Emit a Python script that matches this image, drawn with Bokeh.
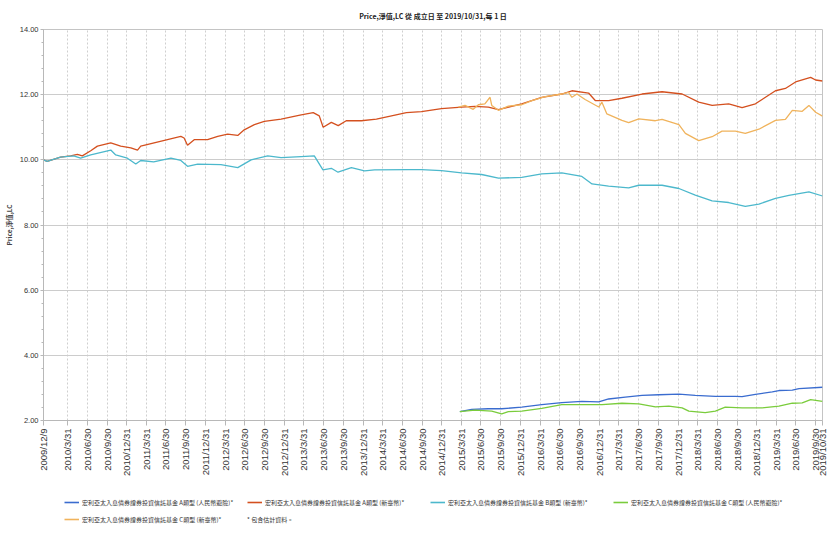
import pandas as pd
from math import pi
from bokeh.plotting import figure
from bokeh.layouts import column
from bokeh.models import (Range1d, FixedTicker, SingleIntervalTicker, NumeralTickFormatter,
                          Legend, LegendItem, ColumnDataSource)
from bokeh.embed import file_html
from bokeh.resources import INLINE

title_text = "Price,淨值,LC 從 成立日 至 2019/10/31,每 1 日"
y_label = "Price,淨值,LC"
note_text = "* 包含估計資料。"

series_names = [
    "宏利亞太入息債券證券投資信託基金 A類型 (人民幣避險)*",
    "宏利亞太入息債券證券投資信託基金 A類型 (新臺幣)*",
    "宏利亞太入息債券證券投資信託基金 B類型 (新臺幣)*",
    "宏利亞太入息債券證券投資信託基金 C類型 (人民幣避險)*",
    "宏利亞太入息債券證券投資信託基金 C類型 (新臺幣)*",
]
series_colors = ["#3a6ccf", "#d4501f", "#4cb8cc", "#7acc3c", "#f0b35c"]

x_start = "2009/12/9"
x_end = "2019/10/31"
x_tick_labels = [
    "2009/12/9",
    "2010/3/31", "2010/6/30", "2010/9/30", "2010/12/31",
    "2011/3/31", "2011/6/30", "2011/9/30", "2011/12/31",
    "2012/3/31", "2012/6/30", "2012/9/30", "2012/12/31",
    "2013/3/31", "2013/6/30", "2013/9/30", "2013/12/31",
    "2014/3/31", "2014/6/30", "2014/9/30", "2014/12/31",
    "2015/3/31", "2015/6/30", "2015/9/30", "2015/12/31",
    "2016/3/31", "2016/6/30", "2016/9/30", "2016/12/31",
    "2017/3/31", "2017/6/30", "2017/9/30", "2017/12/31",
    "2018/3/31", "2018/6/30", "2018/9/30", "2018/12/31",
    "2019/3/31", "2019/6/30", "2019/9/30", "2019/10/31",
]

# A類型 (人民幣避險)
a_cny_dates = ["2015-03-24", "2015-05-18", "2015-08-03", "2015-10-04", "2016-01-05", "2016-04-07",
               "2016-07-09", "2016-10-10", "2016-12-27", "2017-02-11", "2017-04-29", "2017-07-16",
               "2017-10-02", "2018-01-03", "2018-03-20", "2018-06-21", "2018-09-22", "2018-10-23",
               "2018-12-24", "2019-03-12", "2019-04-12", "2019-06-13", "2019-07-14", "2019-10-31"]
a_cny_values = [2.27, 2.34, 2.36, 2.36, 2.41, 2.49,
                2.55, 2.59, 2.57, 2.66, 2.72, 2.77,
                2.79, 2.81, 2.77, 2.74, 2.74, 2.73,
                2.80, 2.88, 2.92, 2.93, 2.98, 3.02]

# A類型 (新臺幣)
a_twd_dates = ["2009-12-09", "2009-12-26", "2010-02-26", "2010-04-14", "2010-05-15", "2010-06-07",
               "2010-07-16", "2010-08-16", "2010-10-17", "2010-12-02", "2011-01-18", "2011-02-18",
               "2011-03-05", "2011-05-06", "2011-07-07", "2011-09-07", "2011-09-22", "2011-10-08",
               "2011-11-08", "2012-01-09", "2012-02-25", "2012-04-11", "2012-05-28", "2012-06-27",
               "2012-08-13", "2012-09-28", "2012-12-15", "2013-03-18", "2013-05-13", "2013-06-10",
               "2013-06-28", "2013-08-05", "2013-09-06", "2013-10-13", "2013-12-22", "2014-03-02",
               "2014-05-11", "2014-07-19", "2014-09-27", "2014-12-29", "2015-04-01", "2015-06-02",
               "2015-08-03", "2015-09-19", "2016-01-05", "2016-04-07", "2016-07-09", "2016-08-25",
               "2016-11-10", "2016-12-11", "2017-02-11", "2017-04-14", "2017-07-16", "2017-10-17",
               "2018-01-18", "2018-04-05", "2018-06-06", "2018-08-22", "2018-10-23", "2018-12-24",
               "2019-03-27", "2019-05-12", "2019-06-28", "2019-09-06", "2019-09-29", "2019-10-31"]
a_twd_values = [10.00, 9.95, 10.08, 10.12, 10.17, 10.12,
                10.28, 10.42, 10.52, 10.42, 10.37, 10.30,
                10.42, 10.52, 10.62, 10.72, 10.67, 10.45,
                10.62, 10.62, 10.72, 10.79, 10.75, 10.92,
                11.08, 11.18, 11.25, 11.38, 11.45, 11.35,
                11.00, 11.15, 11.05, 11.20, 11.20, 11.25,
                11.35, 11.45, 11.48, 11.57, 11.62, 11.64,
                11.62, 11.54, 11.72, 11.92, 12.02, 12.12,
                12.05, 11.82, 11.82, 11.89, 12.02, 12.09,
                12.02, 11.77, 11.67, 11.72, 11.60, 11.72,
                12.12, 12.19, 12.39, 12.53, 12.45, 12.42]

# B類型 (新臺幣)
b_twd_dates = ["2009-12-09", "2009-12-26", "2010-02-26", "2010-04-28", "2010-05-30", "2010-07-16",
               "2010-10-17", "2010-11-09", "2011-01-02", "2011-02-10", "2011-03-05", "2011-05-04",
               "2011-07-23", "2011-09-07", "2011-10-08", "2011-11-24", "2012-03-11", "2012-05-28",
               "2012-07-29", "2012-10-14", "2012-12-15", "2013-03-18", "2013-05-18", "2013-06-27",
               "2013-08-05", "2013-09-05", "2013-11-06", "2014-01-06", "2014-02-21", "2014-07-27",
               "2014-09-27", "2014-12-29", "2015-04-01", "2015-07-03", "2015-09-19", "2016-01-05",
               "2016-04-07", "2016-07-09", "2016-10-10", "2016-11-26", "2017-02-11", "2017-05-15",
               "2017-07-01", "2017-10-17", "2018-01-03", "2018-03-20", "2018-06-06", "2018-08-22",
               "2018-11-07", "2019-01-09", "2019-03-27", "2019-05-28", "2019-08-29", "2019-10-31"]
b_twd_values = [10.00, 9.95, 10.08, 10.12, 10.05, 10.15,
                10.30, 10.15, 10.05, 9.87, 9.98, 9.94,
                10.05, 9.98, 9.80, 9.87, 9.85, 9.76,
                10.00, 10.12, 10.07, 10.10, 10.12, 9.69,
                9.74, 9.62, 9.76, 9.66, 9.69, 9.70,
                9.70, 9.67, 9.60, 9.55, 9.44, 9.46,
                9.57, 9.60, 9.49, 9.26, 9.19, 9.14,
                9.22, 9.22, 9.12, 8.92, 8.74, 8.69,
                8.57, 8.64, 8.82, 8.91, 9.02, 8.89]

# C類型 (人民幣避險)
c_cny_dates = ["2015-03-24", "2015-06-02", "2015-08-19", "2015-10-04", "2015-11-04", "2016-01-05",
               "2016-04-07", "2016-07-09", "2016-10-10", "2017-01-11", "2017-04-14", "2017-07-01",
               "2017-09-16", "2017-11-17", "2018-01-18", "2018-02-18", "2018-05-05", "2018-06-21",
               "2018-08-06", "2018-10-23", "2019-01-24", "2019-04-12", "2019-06-13", "2019-07-29",
               "2019-09-06", "2019-10-31"]
c_cny_values = [2.27, 2.32, 2.29, 2.20, 2.27, 2.29,
                2.37, 2.49, 2.49, 2.49, 2.53, 2.51,
                2.42, 2.44, 2.39, 2.29, 2.24, 2.29,
                2.41, 2.39, 2.39, 2.44, 2.53, 2.54,
                2.64, 2.59]

# C類型 (新臺幣)
c_twd_dates = ["2015-03-17", "2015-04-17", "2015-05-25", "2015-06-18", "2015-07-18", "2015-08-11",
               "2015-08-19", "2015-09-19", "2015-11-04", "2016-01-05", "2016-02-21", "2016-04-23",
               "2016-07-09", "2016-08-09", "2016-08-25", "2016-09-17", "2016-10-25", "2016-12-27",
               "2017-01-11", "2017-02-03", "2017-04-14", "2017-05-15", "2017-07-01", "2017-09-16",
               "2017-10-17", "2018-01-03", "2018-02-02", "2018-04-05", "2018-06-06", "2018-07-22",
               "2018-09-22", "2018-11-07", "2019-01-09", "2019-03-27", "2019-05-12", "2019-06-13",
               "2019-07-29", "2019-08-29", "2019-09-29", "2019-10-31"]
c_twd_values = [11.62, 11.67, 11.55, 11.69, 11.72, 11.92,
                11.67, 11.52, 11.65, 11.69, 11.82, 11.94,
                12.02, 12.07, 11.92, 12.02, 11.85, 11.62,
                11.77, 11.41, 11.21, 11.14, 11.26, 11.20,
                11.24, 11.08, 10.81, 10.59, 10.71, 10.88,
                10.88, 10.81, 10.94, 11.21, 11.24, 11.52,
                11.49, 11.67, 11.46, 11.34]

y_min, y_max, y_step = 2, 14, 2


def ms(s):
    return pd.Timestamp(s.replace("/", "-")).value / 1e6


series = [
    (a_cny_dates, a_cny_values),
    (a_twd_dates, a_twd_values),
    (b_twd_dates, b_twd_values),
    (c_cny_dates, c_cny_values),
    (c_twd_dates, c_twd_values),
]

p = figure(frame_width=779, frame_height=391, output_backend="svg", toolbar_location=None,
           x_range=Range1d(ms(x_start), ms(x_end)), y_range=Range1d(y_min, y_max),
           min_border_left=35, min_border_right=5, min_border_top=21, min_border_bottom=60)

p.title.text = title_text
p.title.align = "center"
p.title.text_font = "Noto Sans CJK TC"
p.title.text_font_size = "7px"
p.title.text_font_style = "bold"
p.title.text_color = "#222222"
p.title.standoff = 17

for (d, v), c in zip(series, series_colors):
    src = ColumnDataSource(dict(x=[ms(s) for s in d], y=v))
    p.line("x", "y", source=src, line_color=c, line_width=1.3)

# x axis
tick_vals = [ms(t) for t in x_tick_labels]
p.xaxis.ticker = FixedTicker(ticks=tick_vals)
p.xaxis.major_label_overrides = {tv: lab for tv, lab in zip(tick_vals, x_tick_labels)}
p.xaxis.major_label_orientation = pi / 2
p.xaxis.major_label_text_font = "Liberation Sans"
p.xaxis.major_label_text_font_size = "9.5px"
p.xaxis.major_label_text_color = "#333333"
p.xaxis.major_tick_out = 5
p.xaxis.major_tick_in = 0
p.xaxis.major_label_standoff = 3
p.xaxis.minor_tick_line_color = None
p.xaxis.axis_line_color = "#b8b8b8"
p.xaxis.major_tick_line_color = "#b8b8b8"

# y axis
p.yaxis.ticker = SingleIntervalTicker(interval=y_step, num_minor_ticks=5)
p.yaxis.formatter = NumeralTickFormatter(format="0.00")
p.yaxis.major_label_text_font = "Liberation Sans"
p.yaxis.major_label_text_font_size = "7.5px"
p.yaxis.major_label_text_color = "#333333"
p.yaxis.major_tick_out = 3
p.yaxis.major_tick_in = 0
p.yaxis.minor_tick_out = 2
p.yaxis.minor_tick_in = 0
p.yaxis.major_label_standoff = 2
p.yaxis.axis_label = y_label
p.yaxis.axis_label_text_font = "Noto Sans CJK TC"
p.yaxis.axis_label_text_font_size = "6.5px"
p.yaxis.axis_label_text_font_style = "bold"
p.yaxis.axis_label_standoff = 3
p.yaxis.axis_line_color = "#b8b8b8"
p.yaxis.major_tick_line_color = "#b8b8b8"
p.yaxis.minor_tick_line_color = "#b8b8b8"

p.xgrid.grid_line_color = "#cfcfcf"
p.xgrid.grid_line_dash = "2 2"
p.ygrid.grid_line_color = "#cccccc"
p.outline_line_color = "#c4c4c4"
p.background_fill_color = "white"
p.border_fill_color = "white"

# legend strip below the chart (its frame is aligned with the chart frame)
pl = figure(width=819, height=45, output_backend="svg", toolbar_location=None,
            x_axis_location=None, y_axis_location=None, min_border=0,
            x_range=Range1d(0, 1), y_range=Range1d(0, 1))
pl.grid.visible = False
pl.outline_line_color = None
nan = float("nan")
leg_renderers = [pl.line(x=[nan], y=[nan], line_color=c, line_width=1.6) for c in series_colors]
note_r = pl.line(x=[nan], y=[nan], line_alpha=0)

legend = Legend(items=[LegendItem(label=n, renderers=[r]) for n, r in zip(series_names, leg_renderers)],
                location=(21, 0), orientation="horizontal", ncols=4,
                label_text_font="Noto Sans CJK TC", label_text_font_size="6px",
                label_text_color="#333333", glyph_width=15, glyph_height=8,
                label_height=12, label_width=160, label_standoff=3, spacing=5, padding=0, margin=0,
                border_line_color=None, background_fill_alpha=0)
pl.add_layout(legend, "center")
note_legend = Legend(items=[LegendItem(label=note_text, renderers=[note_r])],
                     location=(203, 0), orientation="horizontal",
                     label_text_font="Noto Sans CJK TC", label_text_font_size="6px",
                     label_text_color="#333333", glyph_width=1, glyph_height=8,
                     label_height=12, label_standoff=0, spacing=0, padding=0, margin=0,
                     border_line_color=None, background_fill_alpha=0)
pl.add_layout(note_legend, "center")

layout = column(p, pl, spacing=0)
open("out.html", "w").write(file_html(layout, INLINE))
